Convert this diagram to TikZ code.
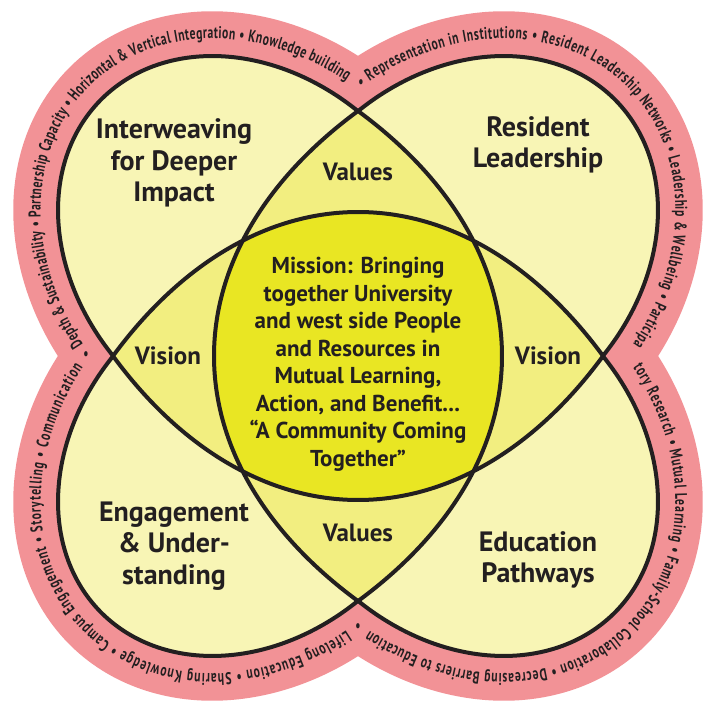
\documentclass[tikz,border=0pt]{standalone}
\usepackage{fontspec}
\setmainfont{PT Sans}
\newfontfamily\bandfont[FakeStretch=0.68]{PT Sans}
\usetikzlibrary{decorations.text}
\definecolor{pinkband}{RGB}{242,146,150}
\definecolor{lobey}{RGB}{248,245,181}
\definecolor{lensy}{RGB}{242,238,128}
\definecolor{centery}{RGB}{233,230,35}
\definecolor{ink}{RGB}{35,31,32}
% lobe arc, counterclockwise: #1 direction, #2,#3 radii, #4 half parameter range
\newcommand\lobe[4]{plot[domain=-#4:#4,samples=120,variable=\noexpand\t]({144.7*cos(#1)+#2*cos(\noexpand\t)*cos(#1)-#3*sin(\noexpand\t)*sin(#1)},{144.7*sin(#1)+#2*cos(\noexpand\t)*sin(#1)+#3*sin(\noexpand\t)*cos(#1)})}
% band baseline, clockwise
\newcommand\bandarc[1]{plot[domain=-75.8:75.8,samples=160,variable=\noexpand\t]({144.7*cos(#1)+235.8*cos(\noexpand\t)*cos(#1)+192.1*sin(\noexpand\t)*sin(#1)},{144.7*sin(#1)+235.8*cos(\noexpand\t)*sin(#1)-192.1*sin(\noexpand\t)*cos(#1)})}
\edef\pinkpath{\lobe{45}{263.3}{219.6}{75.1} -- \lobe{135}{263.3}{219.6}{75.1} -- \lobe{225}{263.3}{219.6}{75.1} -- \lobe{315}{263.3}{219.6}{75.1} -- cycle}
\edef\lobepath{\lobe{45}{218.3}{174.6}{82.5} -- \lobe{135}{218.3}{174.6}{82.5} -- \lobe{225}{218.3}{174.6}{82.5} -- \lobe{315}{218.3}{174.6}{82.5} -- cycle}
\edef\bandA{\bandarc{135}}
\edef\bandB{\bandarc{45}}
\edef\bandC{\bandarc{315}}
\edef\bandD{\bandarc{225}}
\def\hlens{(-245,0) arc[start angle=-130.54,end angle=-49.46,x radius=377,y radius=600] arc[start angle=49.46,end angle=130.54,x radius=377,y radius=600] -- cycle}
\def\vlens{(0,245) arc[start angle=139.46,end angle=220.54,x radius=600,y radius=377] arc[start angle=-40.54,end angle=40.54,x radius=600,y radius=377] -- cycle}
\tikzset{
  lbl/.style={font=\bfseries\fontsize{28}{31.5}\selectfont, align=center, text=ink, inner sep=0pt},
  lens/.style={font=\bfseries\fontsize{25}{30}\selectfont, text=ink, inner sep=0pt},
  ctr/.style={font=\bfseries\fontsize{23}{27.5}\selectfont, align=center, text=ink, inner sep=0pt},
  outline/.style={draw=ink, line width=4pt, line join=round},
  dot/.style={font=\bandfont\bfseries\fontsize{17}{17}\selectfont, text=ink, inner sep=0pt},
  bandtext/.style={decorate, decoration={text along path, text align={fit to path}, text={|\bandfont\bfseries\fontsize{17}{17}\selectfont\color{ink}|#1}}}
}
\begin{document}
\begin{tikzpicture}[x=1pt,y=1pt]
\useasboundingbox (-358,-348) rectangle (351,356);
\fill[pinkband] \pinkpath;
\fill[lobey] \lobepath;
\fill[lensy] \hlens;
\fill[lensy] \vlens;
\begin{scope}
  \clip \hlens;
  \fill[centery] \vlens;
\end{scope}
\path[outline] \lobepath;
\path[outline] \hlens;
\path[outline] \vlens;
% band texts
\path[bandtext={Depth {\&} Sustainability • Partnership Capacity • Horizontal {\&} Vertical Integration • Knowledge building}] \bandA;
\path[bandtext={Representation in Institutions • Resident Leadership Networks • Leadership {\&} Wellbeing • Participa}] \bandB;
\path[bandtext={tory Research • Mutual Learning • Family-School Collaboration • Decreasing Barriers to Education}] \bandC;
\path[bandtext={Lifelong Education • Sharing Knowledge • Campus Engagement • Storytelling • Communication}] \bandD;
\node[dot] (dottop) at (3,272) {•};
\node[dot] (dotleft) at (-272,0) {•};
\node[dot] (dotbot) at (0,-272) {•};
% labels
\node[lbl] (interweave) at (-184,193) {Interweaving\\for Deeper\\Impact};
\node[lbl] (resident) at (180,211) {Resident\\Leadership};
\node[lbl] (engage) at (-184,-190) {Engagement\\\& Under-\\standing};
\node[lbl] (educ) at (180,-204) {Education\\Pathways};
\node[lens] (valtop) at (0,184) {Values};
\node[lens] (valbot) at (0,-177) {Values};
\node[lens] (visleft) at (-190,0) {Vision};
\node[lens] (visright) at (190,0) {Vision};
\node[ctr] (mission) at (0,-8.5) {Mission: Bringing\\together University\\and west side People\\and Resources in\\Mutual Learning,\\Action, and Benefit...\\“A Community Coming\\Together”};
\end{tikzpicture}
\end{document}
